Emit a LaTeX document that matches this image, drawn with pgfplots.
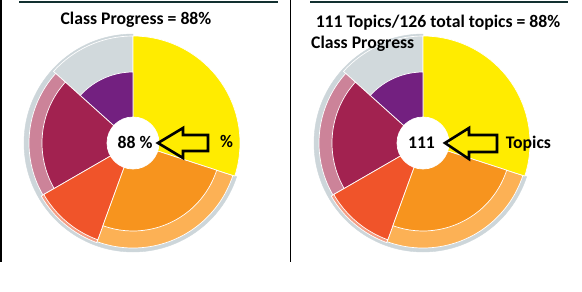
\documentclass[border=0pt]{standalone}
\usepackage{pgfplots}
\usepackage{pgfplotstable}
\pgfplotsset{compat=1.18}
\usepackage{fontspec}
\setmainfont{Carlito}
% colour index -> colour
\definecolor{c0}{RGB}{205,214,218}  % shadow gray
\definecolor{c1}{RGB}{209,217,220}  % band gray
\definecolor{c2}{RGB}{204,131,153}  % pink
\definecolor{c3}{RGB}{245,156,130}  % salmon
\definecolor{c4}{RGB}{252,177,85}   % light orange
\definecolor{c5}{RGB}{255,236,0}    % yellow
\definecolor{c6}{RGB}{115,32,128}   % purple
\definecolor{c7}{RGB}{162,34,80}    % crimson
\definecolor{c8}{RGB}{240,84,42}    % red orange
\definecolor{c9}{RGB}{247,148,30}   % orange
\definecolor{c10}{RGB}{255,255,255} % white hole
\definecolor{topteal}{RGB}{18,48,48}
\pgfdeclareplotmark{empty}{}
% sectors: start angle, end angle, radius (px), colour index
\pgfplotstableread{
a1 a2 r col
90 342 109 0
}\shadowtab
\pgfplotstableread{
a1 a2 r col
90 138 107 1
138 210 104 2
210 250 106 3
250 342 105 4
-18 90 107 5
90 138 71 6
138 210 91 7
210 250 103 8
250 342 88 9
0 360 26 10
}\sectab
\newcommand{\fs}{\fontsize{17.7bp}{20bp}\selectfont\bfseries}
\pgfplotsset{
  sector/.style={
    scatter, only marks, mark=empty, point meta=\thisrow{r},
    visualization depends on={\thisrow{a1} \as \aone},
    visualization depends on={\thisrow{a2} \as \atwo},
    visualization depends on={\thisrow{r} \as \rr},
    visualization depends on={\thisrow{col} \as \col},
    scatter/@post marker code/.code={},
  },
  whitesector/.style={sector,
    scatter/@pre marker code/.code={%
      \pgfmathtruncatemacro\ci{\col}%
      \fill[c\ci, draw=white, line width=0.7bp, line join=round] (0,0) -- (\aone:\rr bp) arc[start angle=\aone, end angle=\atwo, radius=\rr bp] -- cycle;}},
  plainsector/.style={sector,
    scatter/@pre marker code/.code={%
      \pgfmathtruncatemacro\ci{\col}%
      \fill[c\ci] (0,0) -- (\aone:\rr bp) arc[start angle=\aone, end angle=\atwo, radius=\rr bp] -- cycle;}},
}
\begin{document}
\begin{tikzpicture}
\begin{axis}[
  x=1bp, y=1bp, y dir=reverse,
  xmin=0, xmax=582, ymin=0, ymax=292,
  hide axis, clip=false, anchor=south west, at={(0,0)},
]
% frame lines
\addplot[black, line width=1.5bp] coordinates {(1,0) (1,262)};
\addplot[black, line width=1.5bp] coordinates {(290.5,0) (290.5,262)};
\addplot[topteal, line width=2bp] coordinates {(19,1.5) (278,1.5)};
\addplot[topteal, line width=2bp] coordinates {(310,1.5) (568,1.5)};
% left pie
\addplot[plainsector] table[x expr=133, y expr=143] {\shadowtab};
\addplot[whitesector] table[x expr=133, y expr=143] {\sectab};
% right pie
\addplot[plainsector] table[x expr=423, y expr=143] {\shadowtab};
\addplot[whitesector] table[x expr=423, y expr=143] {\sectab};
\end{axis}
% annotations on top (pixel coordinates, y downwards)
\begin{scope}[x=1bp, y=-1bp, yshift=292bp]
\node[anchor=base, inner sep=0pt] at (136,24.5) {\fs Class Progress = 88\%};
\node[anchor=base, inner sep=0pt] at (438,27.5) {\fs 111 Topics/126 total topics = 88\%};
\node[anchor=base west, inner sep=0pt] at (311,49) {\fs Class Progress};
\node[anchor=base, inner sep=0pt] at (135,149) {\fs 88 \%};
\node[anchor=base, inner sep=0pt] at (226.5,148) {\fs \%};
\node[anchor=base, inner sep=0pt] at (421.5,149) {\fs 111};
\node[anchor=base, inner sep=0pt] at (528.5,149) {\fs Topics};
\draw[black, line width=2.6bp, line join=miter] (158,143) -- (183,128) -- (183,135) -- (208,135) -- (208,151) -- (183,151) -- (183,158) -- cycle;
\draw[black, line width=2.6bp, line join=miter] (445,143) -- (469,128) -- (469,135) -- (497,135) -- (497,152) -- (469,152) -- (469,159) -- cycle;
\end{scope}
\pgfresetboundingbox
\path (0,0) rectangle (582bp,292bp);
\end{tikzpicture}
\end{document}
